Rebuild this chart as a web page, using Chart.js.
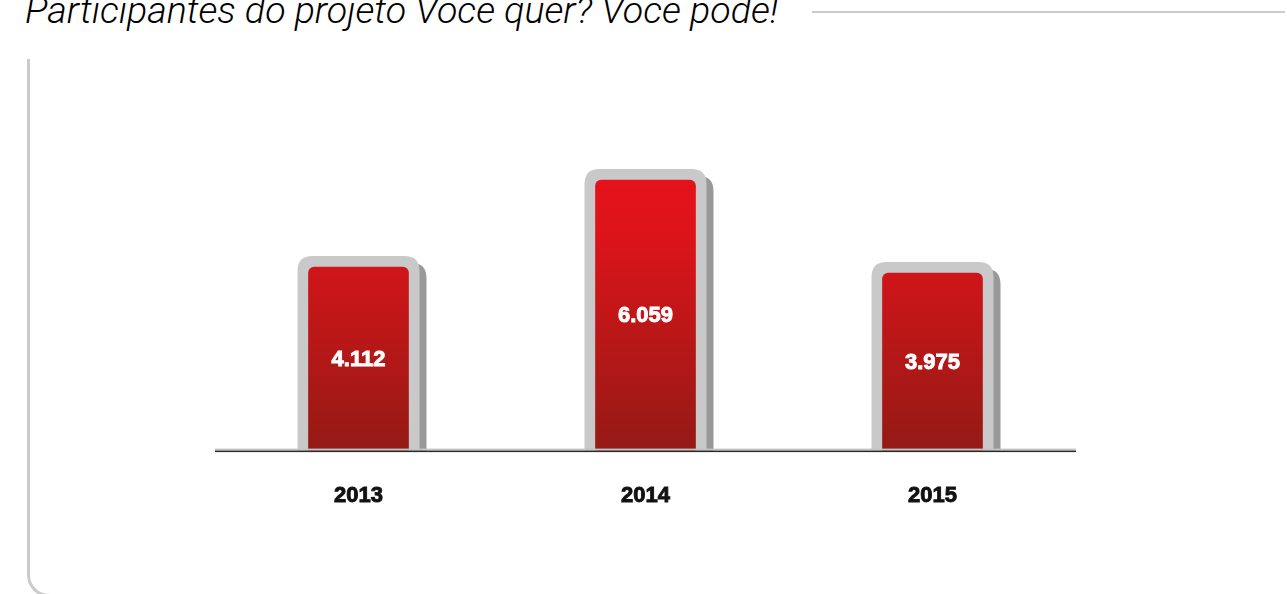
<!DOCTYPE html>
<html lang="pt-BR">
<head>
<meta charset="utf-8">
<title>Participantes do projeto Voce quer? Voce pode!</title>
<script src="https://cdn.jsdelivr.net/npm/chart.js@4/dist/chart.umd.min.js"></script>
<style>
  html, body { margin: 0; padding: 0; background: #fff; overflow: hidden; }
  #stage { position: relative; width: 1287px; height: 594px; overflow: hidden; }
  #heading {
    position: absolute; left: 25px; top: -8px; margin: 0;
    font-family: Roboto, "Open Sans", sans-serif; font-weight: 300; font-style: italic;
    font-size: 37px; line-height: 1; color: #000; white-space: nowrap;
    transform-origin: 0 0;
  }
  #rule { position: absolute; left: 812px; top: 11px; width: 473px; height: 2px; background: #cbcbcb; }
  #frame {
    position: absolute; left: 27px; top: 59px; width: 1400px; height: 538px;
    box-sizing: border-box; border-left: 3px solid #cbcbcb; border-bottom: 3px solid #cbcbcb;
    border-bottom-left-radius: 22px;
  }
  #chart { position: absolute; left: 0; top: 0; }
</style>
</head>
<body>
<div id="stage">
  <h1 id="heading">Participantes do projeto Voce quer? Voce pode!</h1>
  <div id="rule"></div>
  <div id="frame"></div>
  <canvas id="chart" width="1287" height="594"></canvas>
</div>
<script>
// Participants per year
const years = ['2013', '2014', '2015'];
const participants = [4112, 6059, 3975];

// Fit the condensed heading into its line
(function () {
  const h = document.getElementById('heading');
  const w = h.getBoundingClientRect().width;
  h.style.transform = 'scaleX(' + (753 / w) + ')';
})();

const FRAME = 11;      // grey casing around each bar
const SHADOW = 7;      // offset of the drop shadow
const LABEL_FONT = 'bold 22px "Liberation Sans", Arial, sans-serif';

function roundTop(ctx, l, t, r, b, rad) {
  ctx.beginPath();
  ctx.moveTo(l, b);
  ctx.lineTo(l, t + rad);
  ctx.quadraticCurveTo(l, t, l + rad, t);
  ctx.lineTo(r - rad, t);
  ctx.quadraticCurveTo(r, t, r, t + rad);
  ctx.lineTo(r, b);
  ctx.closePath();
}

// Grey casing + shadow behind every bar, baseline and value labels on top
const casingPlugin = {
  id: 'casing',
  beforeDatasetsDraw(chart) {
    const ctx = chart.ctx;
    const meta = chart.getDatasetMeta(0);
    ctx.save();
    meta.data.forEach(bar => {
      const half = bar.width / 2;
      const l = bar.x - half - FRAME, r = bar.x + half + FRAME, t = bar.y - FRAME, b = bar.base;
      ctx.fillStyle = '#999999';
      roundTop(ctx, l + SHADOW, t + SHADOW, r + SHADOW, b, 15);
      ctx.fill();
      ctx.fillStyle = '#c9c9c9';
      roundTop(ctx, l, t, r, b, 15);
      ctx.fill();
    });
    ctx.restore();
  },
  afterDatasetsDraw(chart) {
    const ctx = chart.ctx;
    const area = chart.chartArea;
    const meta = chart.getDatasetMeta(0);
    ctx.save();
    ctx.fillStyle = '#c4c4c4';
    ctx.fillRect(area.left, area.bottom - 2, area.right - area.left, 2);
    ctx.fillStyle = '#2a2a2a';
    ctx.fillRect(area.left, area.bottom, area.right - area.left, 1.5);
    ctx.fillStyle = '#ffffff';
    ctx.strokeStyle = '#ffffff';
    ctx.lineWidth = 0.9;
    ctx.font = LABEL_FONT;
    ctx.textAlign = 'center';
    ctx.textBaseline = 'middle';
    meta.data.forEach((bar, i) => {
      const label = participants[i].toLocaleString('pt-BR');
      const y = (bar.y + bar.base) / 2 + 1;
      ctx.strokeText(label, bar.x, y);
      ctx.fillText(label, bar.x, y);
    });
    ctx.restore();
  }
};

function redGradient(context) {
  const chart = context.chart;
  const area = chart.chartArea;
  if (!area) return '#c0171b';
  const top = chart.scales.y.getPixelForValue(Math.max(...participants));
  const g = chart.ctx.createLinearGradient(0, top, 0, area.bottom);
  g.addColorStop(0, '#e5121a');
  g.addColorStop(0.2, '#dc141a');
  g.addColorStop(1, '#941a15');
  return g;
}

new Chart(document.getElementById('chart'), {
  type: 'bar',
  data: {
    labels: years,
    datasets: [{
      data: participants,
      backgroundColor: redGradient,
      borderWidth: 0,
      borderRadius: { topLeft: 6, topRight: 6, bottomLeft: 0, bottomRight: 0 },
      borderSkipped: false,
      barThickness: 100
    }]
  },
  options: {
    responsive: false,
    animation: false,
    layout: { padding: { left: 215, right: 211, top: 138, bottom: 53 } },
    plugins: { legend: { display: false }, tooltip: { enabled: false }, title: { display: false } },
    scales: {
      y: { display: false, min: 0, max: 7000 },
      x: {
        grid: { display: false, drawTicks: false, tickLength: 0 },
        border: { display: false },
        ticks: {
          color: '#111111',
          textStrokeColor: '#111111',
          textStrokeWidth: 0.9,
          padding: 32,
          font: { family: '"Liberation Sans", Arial, sans-serif', weight: 'bold', size: 22 }
        }
      }
    }
  },
  plugins: [casingPlugin]
});
</script>
</body>
</html>
